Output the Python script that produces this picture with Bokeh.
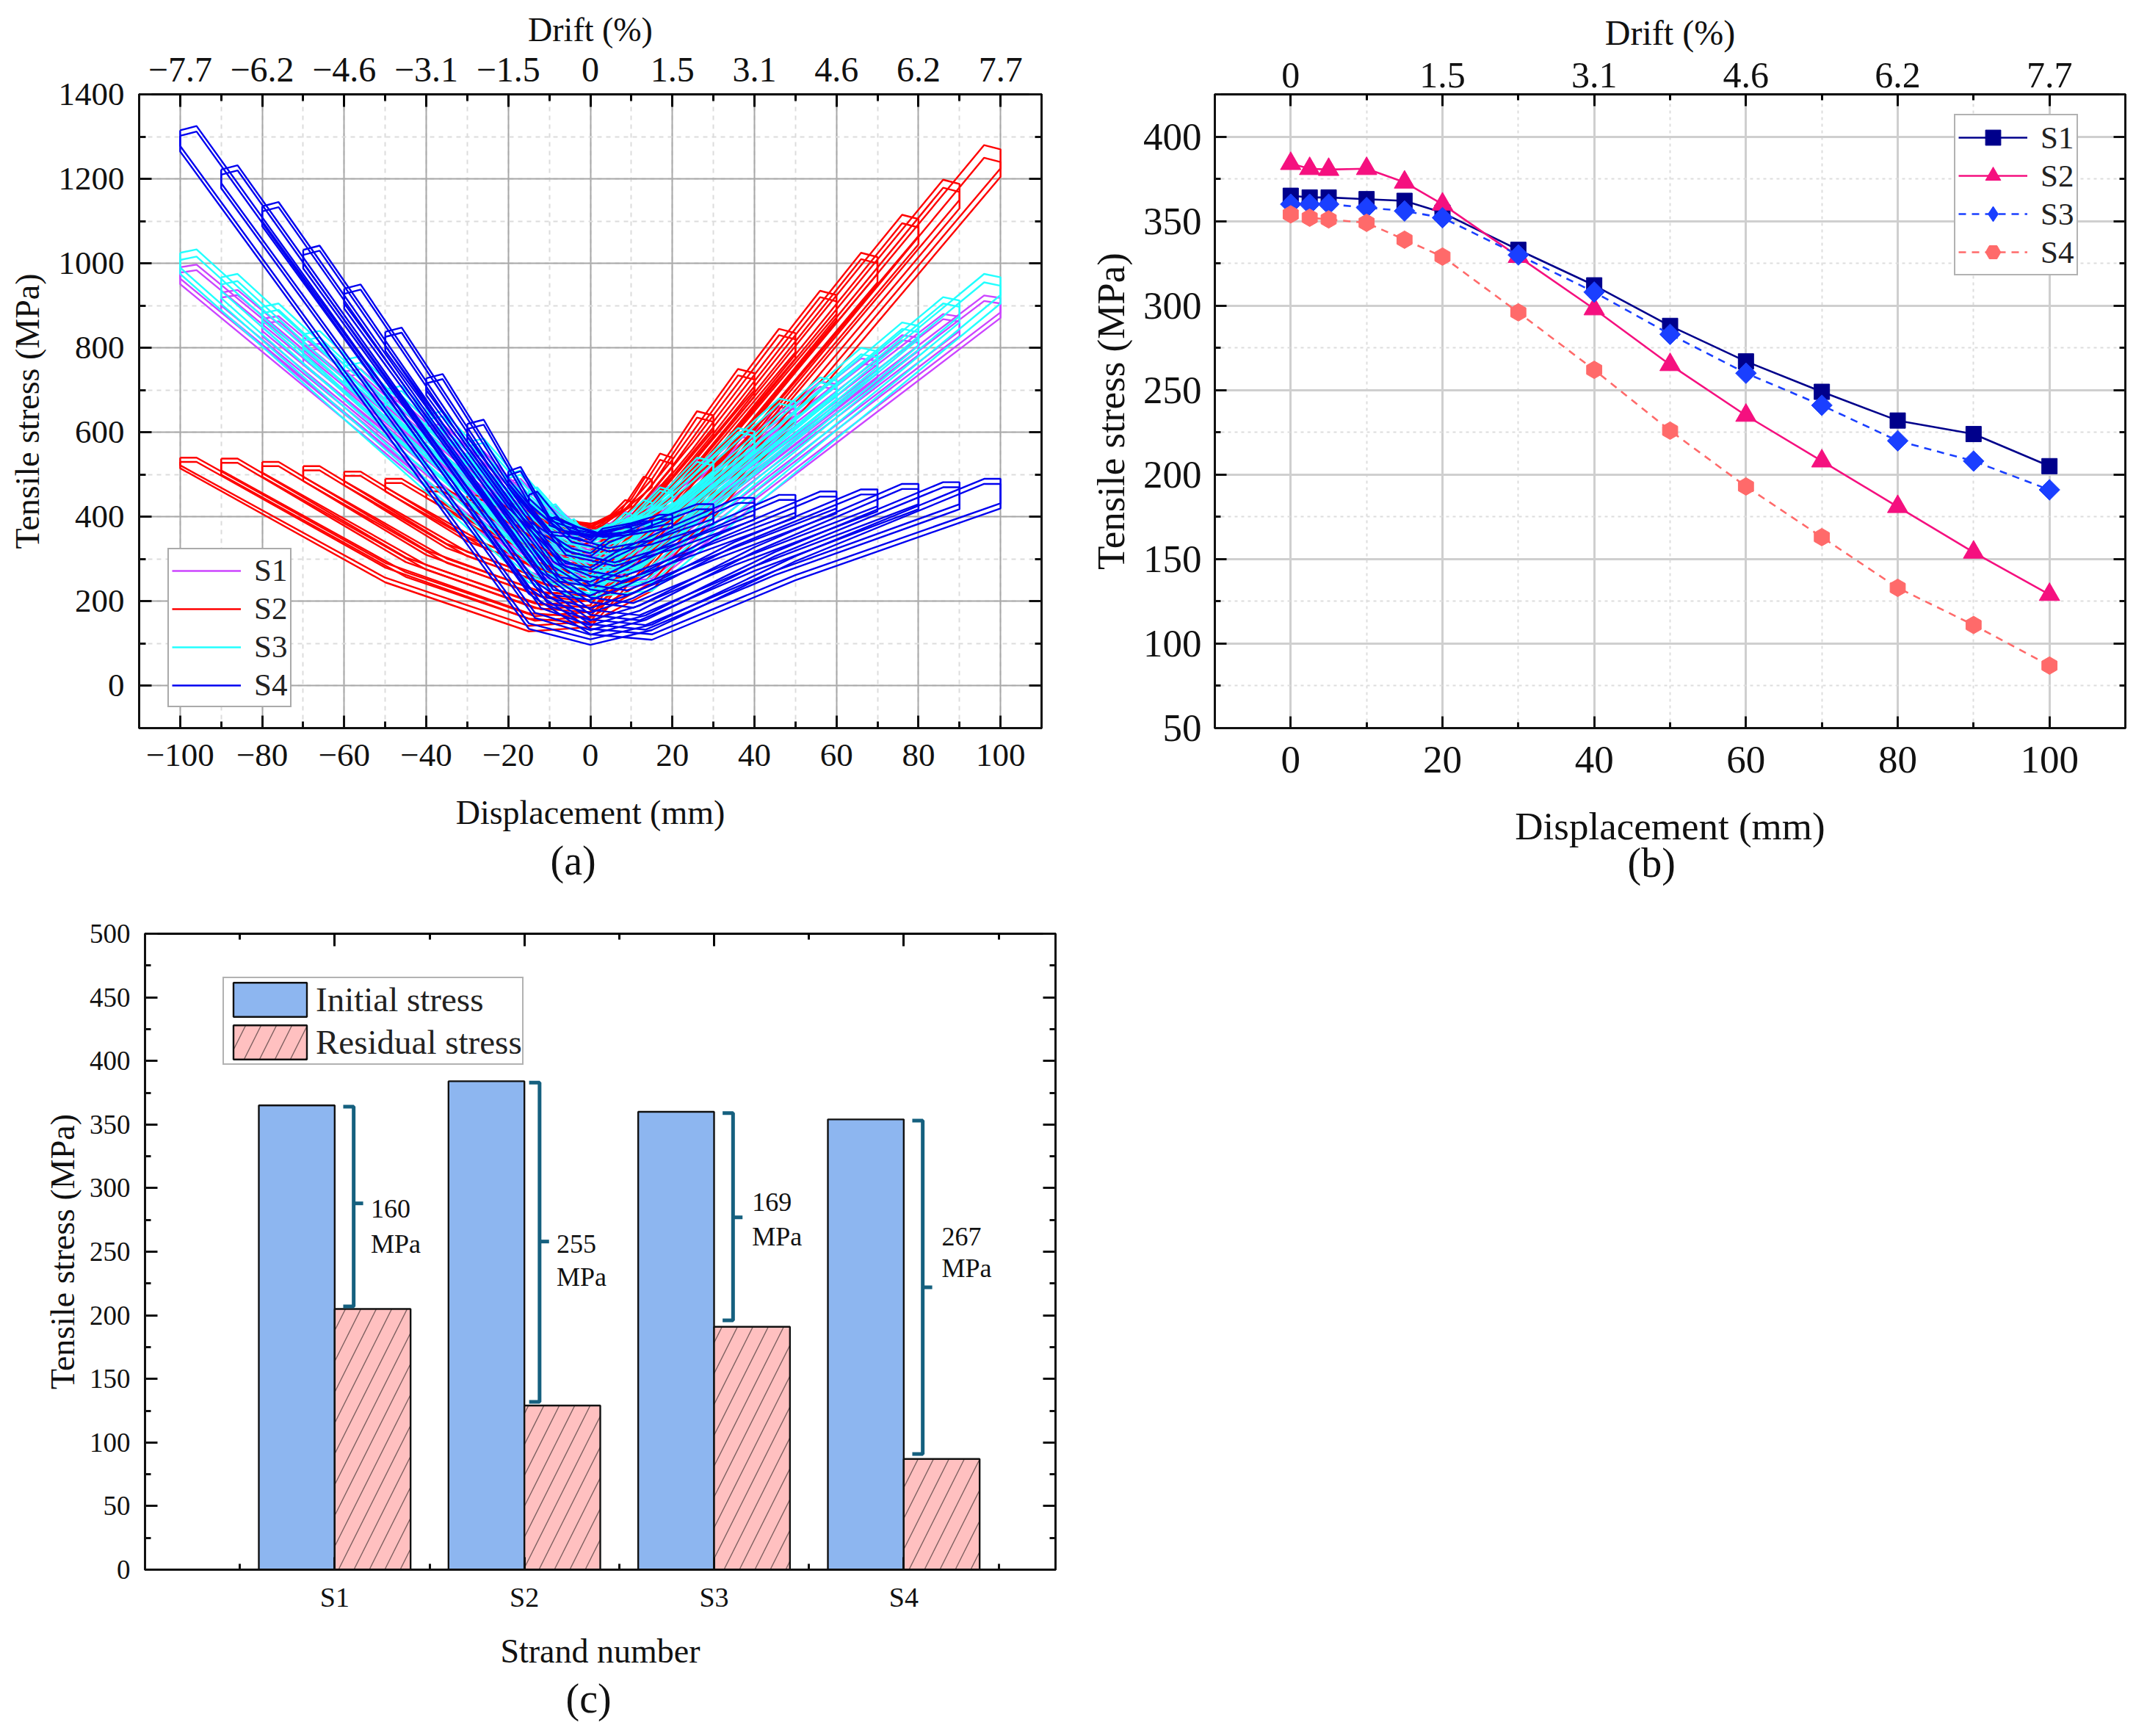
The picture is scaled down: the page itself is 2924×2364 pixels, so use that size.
from bokeh.plotting import figure
from bokeh.layouts import column, row
from bokeh.models import (LinearAxis, FixedTicker, Range1d, Legend, LegendItem, Title)
from bokeh.core.properties import value
from bokeh.embed import file_html
from bokeh.resources import INLINE
import math

FONT = "Liberation Serif"

# ---------- panel (a): hysteresis loops ----------
# displacement knots of the forward pass for each amplitude (mm); the return pass runs the opposite way
KNOTS = {
    100: [-100, -96, -50, -15, 0, 15, 50, 100],
    90: [-90, -86, -45, -13.5, 0, 13.5, 45, 90],
    80: [-80, -76, -40, -12, 0, 12, 40, 80],
    70: [-70, -66, -35, -10.5, 0, 10.5, 35, 70],
    60: [-60, -56, -30, -9, 0, 9, 30, 60],
    50: [-50, -46, -25, -7.5, 0, 7.5, 25, 50],
    40: [-40, -36, -20, -6, 0, 6, 20, 40],
    30: [-30, -26, -15, -4.5, 0, 4.5, 15, 30],
    20: [-20, -17, -10, -3, 0, 3, 10, 20],
    15: [-15, -13, -7.5, -2.2, 0, 2.2, 7.5, 15],
    10: [-10, -8.5, -5, -1.5, 0, 1.5, 5, 10],
    5: [-5, -4, -2.5, -0.8, 0, 0.8, 2.5, 5],
}

S1_LOOPS = [
    (100, [991, 997, 629, 349, 238, 254, 514, 884], [918, 924, 584, 324, 228, 284, 564, 964]),
    (100, [978, 984, 616, 336, 225, 241, 501, 871], [905, 911, 571, 311, 215, 271, 551, 951]),
    (90, [931, 937, 606, 354, 254, 273, 507, 840], [874, 880, 574, 340, 244, 288, 540, 900]),
    (90, [919, 925, 594, 342, 244, 261, 495, 828], [862, 868, 562, 328, 234, 276, 528, 888]),
    (80, [869, 875, 581, 357, 262, 291, 499, 795], [824, 830, 558, 350, 252, 296, 520, 840]),
    (80, [857, 863, 569, 345, 252, 279, 487, 783], [812, 818, 546, 338, 242, 284, 508, 828]),
    (70, [804, 810, 552, 356, 279, 299, 481, 740], [769, 775, 537, 355, 269, 299, 495, 775]),
    (70, [792, 798, 540, 344, 269, 287, 469, 728], [757, 763, 525, 343, 259, 287, 483, 763]),
    (60, [744, 750, 529, 361, 297, 307, 463, 685], [714, 720, 516, 360, 287, 307, 475, 715]),
    (60, [732, 738, 517, 349, 287, 297, 451, 673], [702, 708, 504, 348, 277, 297, 463, 703]),
    (50, [679, 685, 501, 361, 318, 318, 440, 625], [654, 660, 490, 360, 308, 318, 450, 650]),
    (50, [669, 675, 491, 351, 308, 308, 430, 615], [644, 650, 480, 350, 298, 308, 440, 640]),
    (40, [614, 620, 473, 361, 340, 335, 417, 565], [594, 600, 464, 360, 330, 340, 430, 590]),
    (40, [604, 610, 463, 351, 332, 327, 407, 555], [584, 590, 454, 350, 322, 332, 420, 580]),
    (30, [549, 555, 445, 365, 358, 355, 394, 505], [529, 535, 433, 360, 350, 355, 405, 525]),
    (30, [541, 547, 437, 357, 352, 349, 386, 497], [521, 527, 425, 352, 343, 350, 397, 517]),
    (20, [484, 490, 417, 375, 368, 365, 385, 445], [469, 475, 405, 372, 362, 368, 385, 465]),
    (20, [478, 484, 411, 372, 365, 362, 380, 440], [463, 469, 400, 368, 359, 365, 380, 459]),
    (15, [450, 455, 405, 378, 372, 370, 385, 420], [435, 440, 392, 375, 365, 372, 390, 435]),
    (10, [420, 425, 395, 375, 370, 368, 378, 398], [408, 412, 385, 372, 366, 368, 380, 410]),
    (5, [387, 390, 377, 370, 368, 367, 370, 378], [381, 385, 375, 369, 366, 368, 372, 385]),
]

S2_LOOPS = [
    (100, [540, 540, 291, 172, 162, 245, 650, 1225], [1270, 1280, 742, 332, 152, 142, 256, 522]),
    (100, [530, 530, 280, 159, 149, 225, 630, 1205], [1240, 1250, 712, 302, 139, 129, 245, 515]),
    (90, [538, 538, 304, 195, 185, 268, 632, 1150], [1188, 1198, 714, 345, 175, 165, 269, 510]),
    (90, [528, 528, 293, 184, 174, 248, 612, 1130], [1169, 1179, 695, 326, 164, 154, 258, 500]),
    (80, [530, 530, 321, 222, 212, 281, 605, 1065], [1105, 1115, 685, 357, 202, 192, 286, 505]),
    (80, [520, 520, 310, 211, 201, 261, 585, 1045], [1085, 1095, 665, 337, 191, 181, 275, 495]),
    (70, [520, 520, 336, 248, 238, 289, 572, 975], [1015, 1025, 648, 361, 228, 218, 301, 495]),
    (70, [510, 510, 326, 238, 228, 269, 552, 955], [1000, 1010, 633, 346, 218, 208, 291, 485]),
    (60, [507, 507, 352, 275, 265, 292, 535, 880], [925, 935, 612, 366, 255, 245, 317, 485]),
    (60, [497, 497, 342, 265, 255, 277, 520, 865], [910, 920, 597, 351, 245, 235, 307, 475]),
    (50, [490, 490, 368, 305, 295, 310, 502, 790], [835, 845, 576, 371, 285, 275, 333, 470]),
    (50, [480, 480, 358, 295, 285, 295, 487, 775], [820, 830, 561, 356, 275, 265, 323, 460]),
    (40, [470, 470, 387, 338, 328, 330, 470, 700], [740, 750, 535, 371, 318, 308, 352, 455]),
    (40, [460, 460, 377, 328, 318, 320, 455, 685], [725, 735, 520, 356, 308, 298, 342, 445]),
    (30, [450, 450, 398, 369, 359, 355, 433, 605], [640, 650, 489, 375, 349, 339, 366, 430]),
    (30, [440, 440, 388, 359, 349, 345, 418, 590], [625, 635, 474, 360, 339, 329, 356, 420]),
    (20, [430, 430, 395, 385, 375, 378, 395, 505], [540, 550, 442, 385, 368, 360, 377, 405]),
    (20, [420, 420, 388, 380, 370, 372, 388, 495], [525, 535, 430, 380, 362, 356, 372, 398]),
    (15, [410, 410, 390, 385, 378, 385, 410, 470], [488, 495, 415, 385, 375, 370, 380, 395]),
    (10, [400, 400, 390, 386, 384, 386, 395, 425], [436, 440, 405, 388, 383, 382, 386, 392]),
    (5, [392, 392, 386, 384, 383, 384, 388, 395], [396, 398, 390, 385, 383, 382, 384, 388]),
]

S3_LOOPS = [
    (100, [1025, 1033, 628, 320, 224, 245, 525, 925], [967, 975, 607, 327, 214, 260, 560, 990]),
    (100, [1008, 1016, 611, 303, 211, 225, 505, 905], [947, 955, 587, 307, 201, 245, 545, 975]),
    (90, [967, 975, 610, 333, 238, 263, 515, 875], [912, 920, 589, 337, 228, 278, 548, 935]),
    (90, [950, 958, 593, 316, 228, 248, 500, 860], [897, 905, 574, 322, 218, 261, 531, 918]),
    (80, [897, 905, 581, 335, 252, 276, 500, 820], [852, 860, 566, 342, 242, 281, 521, 865]),
    (80, [882, 890, 566, 320, 240, 261, 485, 805], [837, 845, 551, 327, 230, 266, 506, 850]),
    (70, [832, 840, 556, 341, 271, 279, 475, 755], [792, 800, 542, 346, 261, 289, 499, 800]),
    (70, [817, 825, 541, 326, 261, 270, 460, 740], [777, 785, 527, 331, 251, 274, 484, 785]),
    (60, [772, 780, 537, 352, 290, 290, 450, 690], [722, 730, 509, 341, 280, 297, 477, 735]),
    (60, [757, 765, 522, 337, 280, 280, 438, 678], [710, 718, 497, 329, 270, 284, 464, 722]),
    (50, [702, 710, 507, 353, 313, 313, 435, 635], [672, 680, 496, 356, 303, 313, 455, 670]),
    (50, [690, 698, 495, 341, 303, 303, 422, 622], [660, 668, 484, 344, 293, 303, 443, 658]),
    (40, [642, 650, 488, 365, 338, 338, 410, 570], [602, 610, 463, 351, 328, 338, 438, 610]),
    (40, [630, 638, 476, 353, 328, 328, 398, 558], [592, 600, 453, 341, 318, 328, 426, 598]),
    (30, [577, 585, 463, 371, 360, 360, 385, 505], [532, 540, 430, 365, 350, 360, 416, 545]),
    (30, [567, 575, 453, 362, 350, 350, 375, 495], [522, 530, 420, 355, 340, 350, 403, 532]),
    (20, [502, 510, 430, 375, 368, 368, 385, 440], [462, 470, 400, 370, 360, 368, 395, 480]),
    (20, [492, 500, 420, 372, 365, 365, 380, 432], [454, 462, 392, 367, 355, 365, 390, 470]),
    (15, [464, 470, 410, 376, 368, 368, 380, 420], [434, 440, 392, 372, 360, 368, 385, 445]),
    (10, [425, 430, 390, 372, 365, 365, 372, 395], [405, 410, 380, 368, 360, 365, 375, 410]),
    (5, [390, 395, 375, 366, 363, 362, 365, 375], [378, 382, 372, 365, 361, 362, 368, 385]),
]

S4_LOOPS = [
    (100, [1315, 1325, 704, 231, 135, 122, 262, 432], [490, 490, 307, 145, 110, 148, 613, 1278]),
    (100, [1302, 1312, 691, 218, 122, 109, 250, 420], [478, 478, 295, 132, 97, 135, 600, 1265]),
    (90, [1222, 1232, 673, 247, 157, 144, 272, 430], [482, 482, 317, 167, 132, 173, 591, 1190]),
    (90, [1210, 1220, 661, 235, 146, 133, 262, 418], [470, 470, 307, 156, 121, 161, 579, 1178]),
    (80, [1135, 1145, 648, 270, 180, 167, 283, 430], [478, 478, 328, 190, 155, 196, 568, 1100]),
    (80, [1123, 1133, 636, 258, 168, 155, 272, 418], [466, 466, 317, 178, 143, 184, 556, 1088]),
    (70, [1032, 1042, 607, 276, 209, 196, 295, 425], [465, 465, 340, 219, 184, 209, 534, 1000]),
    (70, [1020, 1030, 595, 264, 198, 185, 285, 413], [453, 453, 330, 208, 173, 197, 522, 988]),
    (60, [940, 950, 577, 294, 239, 226, 308, 420], [460, 460, 353, 249, 214, 227, 506, 905]),
    (60, [928, 938, 565, 282, 228, 215, 298, 408], [448, 448, 343, 238, 203, 215, 494, 893]),
    (50, [838, 848, 538, 301, 271, 258, 319, 410], [452, 452, 364, 281, 246, 258, 473, 805]),
    (50, [826, 836, 526, 289, 260, 247, 309, 398], [440, 440, 354, 270, 236, 247, 461, 793]),
    (40, [728, 738, 490, 320, 305, 292, 333, 405], [445, 445, 378, 315, 280, 290, 434, 700]),
    (40, [716, 726, 478, 310, 297, 284, 323, 393], [433, 433, 368, 305, 272, 282, 422, 688]),
    (30, [620, 630, 444, 350, 339, 326, 345, 395], [430, 430, 390, 349, 314, 325, 390, 590]),
    (30, [608, 618, 432, 340, 331, 318, 335, 383], [418, 418, 380, 339, 306, 315, 378, 578]),
    (20, [508, 518, 400, 375, 368, 358, 365, 385], [405, 405, 385, 372, 345, 358, 365, 480]),
    (20, [498, 508, 392, 368, 362, 352, 358, 375], [395, 395, 378, 365, 338, 350, 358, 470]),
    (15, [452, 460, 395, 372, 365, 358, 362, 375], [390, 390, 375, 365, 350, 358, 370, 430]),
    (10, [394, 400, 368, 360, 358, 354, 356, 365], [375, 375, 365, 360, 352, 356, 362, 380]),
    (5, [372, 378, 362, 358, 356, 354, 355, 360], [365, 365, 360, 358, 354, 356, 358, 368]),
]

A_X_TICKS = [-100, -80, -60, -40, -20, 0, 20, 40, 60, 80, 100]
A_X_LABELS = ["\u2212100", "\u221280", "\u221260", "\u221240", "\u221220", "0", "20", "40", "60", "80", "100"]
A_DRIFT_LABELS = ["\u22127.7", "\u22126.2", "\u22124.6", "\u22123.1", "\u22121.5", "0", "1.5", "3.1", "4.6", "6.2", "7.7"]

# ---------- panel (b) ----------
B_DISP = [0, 2.5, 5, 10, 15, 20, 30, 40, 50, 60, 70, 80, 90, 100]
B_S1 = [365, 364, 364, 363, 362, 355, 333, 312, 288, 267, 249, 232, 224, 205]
B_S2 = [384, 381, 380.5, 381, 373, 360, 329, 298, 265, 235, 208, 181, 154, 129]
B_S3 = [360, 360, 360, 358, 356, 352, 330, 308, 283, 260, 241, 220, 208, 191]
B_S4 = [354, 352, 351, 349, 339, 329, 296, 262, 226, 193, 163, 133, 111, 87]
B_X_TICKS = [0, 20, 40, 60, 80, 100]
B_DRIFT_LABELS = ["0", "1.5", "3.1", "4.6", "6.2", "7.7"]

# ---------- panel (c) ----------
C_STRANDS = ["S1", "S2", "S3", "S4"]
C_POS = [1, 2, 3, 4]
C_INITIAL = [365, 384, 360, 354]
C_RESIDUAL = [205, 129, 191, 87]
C_LOSS = ["160", "255", "169", "267"]
BRACE_X = [1.10, 2.08, 3.10, 4.10]
BRACE_TOP = [364, 383, 359, 353]
BRACE_BOT = [207, 132, 196, 91]
BRACE_TIP = [288, 258, 277, 222]
C_TEXT_X = [1.19, 2.17, 3.20, 4.20]
C_TEXT_Y1 = [284, 256, 289, 262]
C_TEXT_Y2 = [256, 230, 262, 237]


def frame(p, xt, xm, yt, ym, major=17, minor=9, lw=3, size="44px"):
    """style the axes of a panel; ticks point inward"""
    for ax, t, m in [(p.below[0], xt, xm), (p.left[0], yt, ym)]:
        ax.ticker = FixedTicker(ticks=t, minor_ticks=m)
    right = LinearAxis(ticker=FixedTicker(ticks=yt, minor_ticks=ym),
                       major_label_overrides={v: "" for v in yt})
    p.add_layout(right, "right")
    for ax in [p.below[0], p.left[0], right]:
        ax.major_tick_in = major
        ax.major_tick_out = 0
        ax.minor_tick_in = minor
        ax.minor_tick_out = 0
        ax.major_tick_line_width = lw
        ax.minor_tick_line_width = lw
        ax.major_tick_line_color = "#111111"
        ax.minor_tick_line_color = "#111111"
        ax.axis_line_width = lw
        ax.axis_line_color = "#111111"
        ax.major_label_text_font = FONT
        ax.major_label_text_font_size = size
        ax.major_label_text_color = "#111111"
        ax.axis_label_text_font = FONT
        ax.axis_label_text_font_style = "normal"
        ax.axis_label_text_color = "#111111"
    p.outline_line_color = "#111111"
    p.outline_line_width = lw


def top_axis(p, ticks, minors, labels, title, major, minor, lw, size, lsize, standoff, lstandoff):
    ax = LinearAxis(ticker=FixedTicker(ticks=ticks, minor_ticks=minors),
                    major_label_overrides=dict(zip(ticks, labels)),
                    axis_label=title)
    ax.major_tick_in = major
    ax.major_tick_out = 0
    ax.minor_tick_in = minor
    ax.minor_tick_out = 0
    ax.major_tick_line_width = lw
    ax.minor_tick_line_width = lw
    ax.axis_line_width = lw
    ax.major_label_text_font = FONT
    ax.major_label_text_font_size = size
    ax.major_label_text_color = "#111111"
    ax.major_label_standoff = standoff
    ax.axis_label_text_font = FONT
    ax.axis_label_text_font_style = "normal"
    ax.axis_label_text_font_size = lsize
    ax.axis_label_text_color = "#111111"
    ax.axis_label_standoff = lstandoff
    p.add_layout(ax, "above")


def grids(p, major_color, major_w, minor_color, minor_w, dash):
    for g in [p.xgrid[0], p.ygrid[0]]:
        g.grid_line_color = major_color
        g.grid_line_width = major_w
        g.minor_grid_line_color = minor_color
        g.minor_grid_line_width = minor_w
        g.minor_grid_line_dash = dash


def caption(p, text, offset, standoff):
    p.add_layout(Title(text=text, text_font=FONT, text_font_size="56px", text_font_style="normal",
                       text_color="#111111", align="left", offset=offset, standoff=standoff), "below")


# ================= (a) =================
pa = figure(width=1480, height=1230, x_range=Range1d(-110, 110), y_range=Range1d(-100, 1400),
            output_backend="svg", toolbar_location=None,
            min_border_left=189, min_border_right=62, min_border_top=128, min_border_bottom=239,
            background_fill_color="white")
A_MINOR_X = [-110 + 10 * i for i in range(23)]
A_MINOR_Y = [-100 + 100 * i for i in range(16)]
frame(pa, A_X_TICKS, A_MINOR_X, list(range(0, 1401, 200)), A_MINOR_Y, size="45px")
pa.below[0].major_label_overrides = dict(zip(A_X_TICKS, A_X_LABELS))
top_axis(pa, A_X_TICKS, A_MINOR_X, A_DRIFT_LABELS, "Drift (%)", 17, 9, 3, "48px", "46px", 18, 10)
pa.xgrid[0].ticker = FixedTicker(ticks=A_X_TICKS, minor_ticks=A_MINOR_X)
pa.ygrid[0].ticker = FixedTicker(ticks=list(range(0, 1401, 200)), minor_ticks=A_MINOR_Y)
grids(pa, "#a8a8a8", 2, "#dcdcdc", 2, "6 6")
pa.below[0].axis_label = "Displacement (mm)"
pa.left[0].axis_label = "Tensile stress (MPa)"
pa.below[0].axis_label_text_font_size = "46px"
pa.left[0].axis_label_text_font_size = "46px"
pa.below[0].major_label_standoff = 22
pa.left[0].major_label_standoff = 20
pa.below[0].axis_label_standoff = 35
pa.left[0].axis_label_standoff = 14

items_a = []
for name, loops, col in [("S1", S1_LOOPS, "#CC44FF"), ("S2", S2_LOOPS, "#FF0000"),
                         ("S3", S3_LOOPS, "#22FFFF"), ("S4", S4_LOOPS, "#0000F0")]:
    xs, ys = [], []
    for amp, up, back in loops:
        kx = KNOTS[amp]
        xs.append(kx + [-v for v in kx] + [kx[0]])
        ys.append(up + back + [up[0]])
    r = pa.multi_line(xs, ys, line_color=col, line_width=2.4)
    items_a.append(LegendItem(label=name, renderers=[r]))
pa.add_layout(Legend(items=items_a, location=(39, 28), border_line_color="#555555", border_line_width=2,
                     background_fill_color="white", background_fill_alpha=1,
                     label_text_font=FONT, label_text_font_size="43px", label_text_color="#222222",
                     glyph_width=94, glyph_height=40, label_height=44, spacing=3, margin=0, padding=4,
                     label_standoff=18))
caption(pa, "(a)", 560, 9)

# ================= (b) =================
pb = figure(width=1436, height=1230, x_range=Range1d(-10, 110), y_range=Range1d(50, 425),
            output_backend="svg", toolbar_location=None,
            min_border_left=173, min_border_right=22, min_border_top=124, min_border_bottom=236,
            background_fill_color="white")
B_MINOR_X = [-10 + 10 * i for i in range(13)]
B_MINOR_Y = [50 + 25 * i for i in range(16)]
B_Y_TICKS = list(range(50, 401, 50))
frame(pb, B_X_TICKS, B_MINOR_X, B_Y_TICKS, B_MINOR_Y, major=16, minor=8, size="53px")
top_axis(pb, B_X_TICKS, B_MINOR_X, B_DRIFT_LABELS, "Drift (%)", 16, 8, 3, "50px", "48px", 10, 12)
pb.xgrid[0].ticker = FixedTicker(ticks=B_X_TICKS, minor_ticks=B_MINOR_X)
pb.ygrid[0].ticker = FixedTicker(ticks=B_Y_TICKS, minor_ticks=B_MINOR_Y)
grids(pb, "#cfcfcf", 3, "#dddddd", 2, "4 5")
pb.below[0].axis_label = "Displacement (mm)"
pb.left[0].axis_label = "Tensile stress (MPa)"
pb.below[0].axis_label_text_font_size = "53px"
pb.left[0].axis_label_text_font_size = "53px"
pb.below[0].major_label_standoff = 25
pb.left[0].major_label_standoff = 18
pb.below[0].axis_label_standoff = 41
pb.left[0].axis_label_standoff = 12

items_b = []
for name, ys, col, marker, dash, msize, mangle, legend_marker in [
        ("S1", B_S1, "#00008B", "square", "solid", 21, 0, "square"),
        ("S2", B_S2, "#F5107F", "triangle", "solid", 28, 0, "triangle"),
        ("S3", B_S3, "#1A3FFF", "square", "10 8", 20, math.pi / 4, "diamond"),
        ("S4", B_S4, "#FF6A6A", "hex", "10 8", 24, math.pi / 6, "hex")]:
    l = pb.line(B_DISP, ys, line_color=col, line_width=2.6, line_dash=dash)
    s = pb.scatter(B_DISP, ys, marker=marker, size=msize, angle=mangle,
                   fill_color=col, line_color=col, line_width=1)
    key = pb.scatter([float("nan")], [float("nan")], marker=legend_marker, size=msize,
                     fill_color=col, line_color=col, line_width=1)
    items_b.append(LegendItem(label=name, renderers=[l, key]))
pb.add_layout(Legend(items=items_b, location=(1007, 616), border_line_color="#666666", border_line_width=2,
                     background_fill_color="white", background_fill_alpha=1,
                     label_text_font=FONT, label_text_font_size="43px", label_text_color="#222222",
                     glyph_width=94, glyph_height=52, label_height=44, spacing=0, margin=0, padding=4,
                     label_standoff=18))
caption(pb, "(b)", 562, -30)

# ================= (c) =================
pc = figure(width=1480, height=1126, x_range=Range1d(0, 4.8), y_range=Range1d(0, 500),
            output_backend="svg", toolbar_location=None,
            min_border_left=197, min_border_right=43, min_border_top=41, min_border_bottom=219,
            background_fill_color="white")
pc.grid.visible = False
C_MINOR_Y = [25 * i for i in range(21)]
C_MINOR_X = [0.5, 1.5, 2.5, 3.5, 4.5]
frame(pc, C_POS, C_MINOR_X, list(range(0, 501, 50)), C_MINOR_Y, major=17, minor=8, size="37px")
pc.below[0].major_label_overrides = dict(zip(C_POS, C_STRANDS))
pc.below[0].major_label_text_font_size = "38px"
pc.add_layout(LinearAxis(ticker=FixedTicker(ticks=C_POS, minor_ticks=C_MINOR_X),
                         major_label_overrides={v: "" for v in C_POS},
                         major_tick_in=17, major_tick_out=0, minor_tick_in=8, minor_tick_out=0,
                         major_tick_line_width=3, minor_tick_line_width=3, axis_line_width=3), "above")
pc.below[0].axis_label = "Strand number"
pc.left[0].axis_label = "Tensile stress (MPa)"
pc.below[0].axis_label_text_font_size = "46px"
pc.left[0].axis_label_text_font_size = "46px"
pc.below[0].major_label_standoff = 16
pc.left[0].major_label_standoff = 20
pc.below[0].axis_label_standoff = 24
pc.left[0].axis_label_standoff = 8

r_i = pc.vbar(x=[v - 0.2 for v in C_POS], top=C_INITIAL, width=0.4, fill_color="#8DB6F0",
              line_color="#111111", line_width=2.4)
r_r = pc.vbar(x=[v + 0.2 for v in C_POS], top=C_RESIDUAL, width=0.4, fill_color="#FFC0C0",
              line_color="#111111", line_width=2.4, hatch_pattern="right_diagonal_line",
              hatch_color="#7d6060", hatch_scale=42, hatch_weight=1.4)
pc.add_layout(Legend(items=[LegendItem(label="Initial stress", renderers=[r_i]),
                            LegendItem(label="Residual stress", renderers=[r_r])],
                     location=(106, 687), border_line_color="#666666", border_line_width=2,
                     background_fill_color="white", background_fill_alpha=1,
                     label_text_font=FONT, label_text_font_size="47px", label_text_color="#222222",
                     glyph_width=125, glyph_height=58, label_height=50, spacing=0, margin=0, padding=0,
                     label_standoff=0))

# braces: spine, end hooks, middle tip
HOOK = 0.055
TIP = 0.05
b_xs, b_ys = [], []
for bx, bt, bb, tip in zip(BRACE_X, BRACE_TOP, BRACE_BOT, BRACE_TIP):
    b_xs.append([bx - HOOK, bx, bx, bx - HOOK])
    b_ys.append([bt, bt, bb, bb])
    b_xs.append([bx, bx + TIP])
    b_ys.append([tip, tip])
pc.multi_line(b_xs, b_ys, line_color="#15607F", line_width=5)
pc.text(C_TEXT_X, C_TEXT_Y1, text=C_LOSS, text_font=value(FONT), text_font_size="36px",
        text_baseline="middle", text_color="#111111")
pc.text(C_TEXT_X, C_TEXT_Y2, text=["MPa"] * 4, text_font=value(FONT), text_font_size="36px",
        text_baseline="middle", text_color="#111111")
caption(pc, "(c)", 573, 6)

page = column(row(pa, pb, spacing=0), pc, spacing=0)
open("out.html", "w").write(file_html(page, INLINE))
